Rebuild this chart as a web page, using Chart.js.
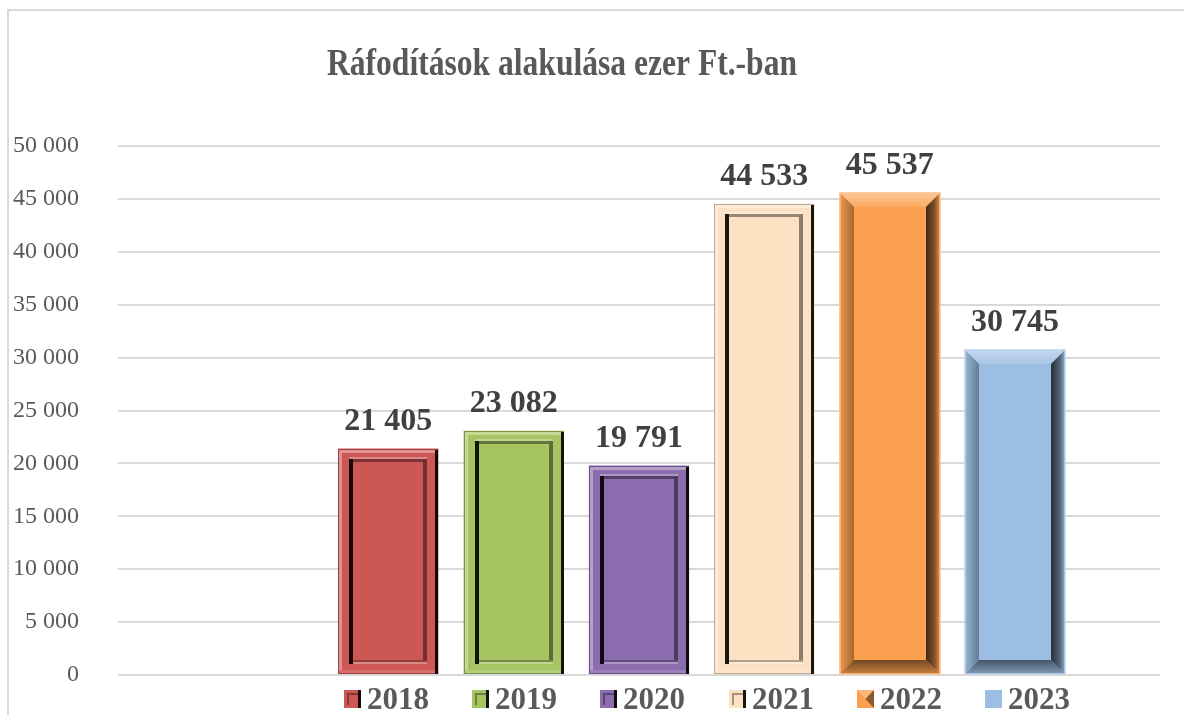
<!DOCTYPE html>
<html>
<head>
<meta charset="utf-8">
<script src="https://cdn.jsdelivr.net/npm/chart.js@4/dist/chart.umd.min.js"></script>
<style>
  html, body { margin: 0; padding: 0; background: #fff; }
</style>
</head>
<body>
<canvas id="main-chart" width="1184" height="715"></canvas>
<script>
/* global Chart */

// Chart values
const chartTitle = 'Ráfodítások alakulása ezer Ft.-ban';
const categories = [''];
// first series is empty in the original workbook (keeps the gap on the left)
const seriesLabels = ['', '2018', '2019', '2020', '2021', '2022', '2023'];
const seriesValues = [null, 21405, 23082, 19791, 44533, 45537, 30745];
const yTickValues = [0, 5000, 10000, 15000, 20000, 25000, 30000, 35000, 40000, 45000, 50000];
const yTickLabels = ['0', '5 000', '10 000', '15 000', '20 000', '25 000', '30 000', '35 000', '40 000', '45 000', '50 000'];

// Styles
const seriesColors = ['#ffffff', '#cd5755', '#a6c462', '#8b6cae', '#fde1c3', '#fba04f', '#9dbee3'];
const seriesBevels = ['none', 'frame', 'frame', 'frame', 'frame', 'angle', 'angle'];

const FONT = "'Liberation Serif', 'Times New Roman', serif";

const formatNum = (n) => String(n).replace(/\B(?=(\d{3})+(?!\d))/g, ' ');

// lighten (amt > 0) or darken (amt < 0) a hex colour
function shade(hex, amt) {
  const n = parseInt(hex.slice(1), 16);
  const r = (n >> 16) & 255, g = (n >> 8) & 255, b = n & 255;
  const f = (c) => amt >= 0 ? Math.round(c + (255 - c) * amt) : Math.round(c * (1 + amt));
  return 'rgb(' + f(r) + ',' + f(g) + ',' + f(b) + ')';
}

function drawFrame(ctx, l, t, r, b, c) {
  const rim = 11;
  const il = l + rim, it = t + rim, ir = r - rim, ib = b - rim;
  // outer rim
  ctx.strokeStyle = shade(c, -0.25);
  ctx.lineWidth = 1;
  ctx.strokeRect(l + 0.5, t + 0.5, r - l - 1, b - t - 1);
  ctx.fillStyle = shade(c, 0.35);
  ctx.fillRect(l + 1, t + 1, r - l - 4, 3);
  ctx.fillRect(l + 1, t + 1, 3, b - t - 2);
  ctx.fillStyle = shade(c, 0.15);
  ctx.fillRect(l + 1, b - 4, r - l - 4, 3);
  ctx.fillStyle = shade(c, -0.9);
  ctx.fillRect(r - 3, t + 1, 3, b - t - 1);
  // inner panel
  ctx.fillStyle = shade(c, 0.3);
  ctx.fillRect(il, it - 3, ir - il, 2);
  ctx.fillStyle = shade(c, -0.4);
  ctx.fillRect(il, it - 1, ir - il, 3);
  ctx.fillStyle = shade(c, -0.45);
  ctx.fillRect(ir - 4, it - 1, 4, ib - it + 1);
  ctx.fillStyle = shade(c, -0.3);
  ctx.fillRect(il, ib - 3, ir - il, 2);
  ctx.fillStyle = shade(c, 0.3);
  ctx.fillRect(il, ib - 1, ir - il, 2);
  ctx.fillStyle = shade(c, -0.9);
  ctx.fillRect(il, it - 1, 4, ib - it + 2);
}

function trap(ctx, pts, fill) {
  ctx.beginPath();
  ctx.moveTo(pts[0][0], pts[0][1]);
  for (let k = 1; k < pts.length; k++) ctx.lineTo(pts[k][0], pts[k][1]);
  ctx.closePath();
  ctx.fillStyle = fill;
  ctx.fill();
}

function drawAngle(ctx, l, t, r, b, c) {
  const w = 14;
  let g = ctx.createLinearGradient(0, t, 0, t + w);
  g.addColorStop(0, shade(c, 0.4));
  g.addColorStop(1, shade(c, 0.1));
  trap(ctx, [[l, t], [r, t], [r - w, t + w], [l + w, t + w]], g);
  g = ctx.createLinearGradient(l, 0, l + w, 0);
  g.addColorStop(0, shade(c, -0.05));
  g.addColorStop(1, shade(c, -0.35));
  trap(ctx, [[l, t], [l + w, t + w], [l + w, b - w], [l, b]], g);
  g = ctx.createLinearGradient(r - w, 0, r, 0);
  g.addColorStop(0, shade(c, -0.75));
  g.addColorStop(0.6, shade(c, -0.5));
  g.addColorStop(1, shade(c, -0.1));
  trap(ctx, [[r, t], [r, b], [r - w, b - w], [r - w, t + w]], g);
  g = ctx.createLinearGradient(0, b - w, 0, b);
  g.addColorStop(0, shade(c, -0.55));
  g.addColorStop(1, shade(c, -0.2));
  trap(ctx, [[l, b], [r, b], [r - w, b - w], [l + w, b - w]], g);
  ctx.strokeStyle = shade(c, 0.35);
  ctx.lineWidth = 1.5;
  ctx.strokeRect(l, t, r - l, b - t);
}

// Frame, title, bevels, value labels and legend
const decorPlugin = {
  id: 'decor',
  beforeDraw(chart) {
    const ctx = chart.ctx;
    ctx.save();
    ctx.fillStyle = '#fff';
    ctx.fillRect(0, 0, chart.width, chart.height);
    ctx.strokeStyle = '#d9d9d9';
    ctx.lineWidth = 2;
    ctx.strokeRect(8, 10, 1400, 900);
    // title, squeezed to the width it has in the original
    ctx.fillStyle = '#595959';
    ctx.font = 'bold 38px ' + FONT;
    ctx.textAlign = 'center';
    ctx.textBaseline = 'alphabetic';
    const tw = ctx.measureText(chartTitle).width;
    const sx = Math.min(1, 470 / tw);
    ctx.translate(562, 75);
    ctx.scale(sx, 1);
    ctx.fillText(chartTitle, 0, 0);
    ctx.restore();
  },
  afterDatasetsDraw(chart) {
    const ctx = chart.ctx;
    ctx.save();
    chart.data.datasets.forEach((ds, i) => {
      const meta = chart.getDatasetMeta(i);
      meta.data.forEach((bar, j) => {
        const v = ds.data[j];
        if (v == null) return;
        const l = Math.round(bar.x - bar.width / 2), r = Math.round(bar.x + bar.width / 2);
        const t = Math.round(bar.y), b = Math.round(bar.base);
        if (ds.bevel === 'frame') drawFrame(ctx, l, t, r, b, ds.backgroundColor);
        else if (ds.bevel === 'angle') drawAngle(ctx, l, t, r, b, ds.backgroundColor);
        ctx.fillStyle = '#404040';
        ctx.font = 'bold 32px ' + FONT;
        ctx.textAlign = 'center';
        ctx.textBaseline = 'alphabetic';
        ctx.fillText(formatNum(v), bar.x, bar.y - 19);
      });
    });
    ctx.restore();
  },
  afterDraw(chart) {
    const ctx = chart.ctx;
    ctx.save();
    ctx.font = 'bold 31px ' + FONT;
    ctx.textBaseline = 'alphabetic';
    ctx.textAlign = 'left';
    let k = 0;
    chart.data.datasets.forEach((ds) => {
      if (!ds.label) return;
      const x = 344 + Math.round(k * 128.2), y = 690;
      const c = ds.backgroundColor;
      ctx.fillStyle = c;
      ctx.fillRect(x, y, 17, 18);
      if (ds.bevel === 'frame') {
        ctx.fillStyle = shade(c, -0.9);
        ctx.fillRect(x + 14, y, 3, 18);
        ctx.fillStyle = shade(c, -0.35);
        ctx.fillRect(x + 3, y + 3, 11, 2);
        ctx.fillRect(x + 3, y + 3, 2, 12);
      } else if (k === 4) {
        trap(ctx, [[x, y], [x + 17, y], [x + 8.5, y + 9]], shade(c, 0.25));
        trap(ctx, [[x + 17, y], [x + 17, y + 18], [x + 8.5, y + 9]], shade(c, -0.45));
      }
      ctx.fillStyle = '#595959';
      ctx.fillText(ds.label, x + 23, 709);
      k++;
    });
    ctx.restore();
  }
};

const datasets = seriesLabels.map((label, i) => ({
  label: label,
  data: [seriesValues[i]],
  backgroundColor: seriesColors[i],
  bevel: seriesBevels[i],
  borderWidth: 0
}));

const mainChart = new Chart(document.getElementById('main-chart'), {
  type: 'bar',
  data: {
    labels: categories,
    datasets: datasets
  },
  options: {
    responsive: false,
    animation: false,
    layout: {
      padding: { left: 0, right: 24, top: 146, bottom: 40 }
    },
    datasets: {
      bar: {
        categoryPercentage: 0.842,
        barPercentage: 0.8
      }
    },
    plugins: {
      legend: { display: false },
      title: { display: false },
      tooltip: { enabled: false }
    },
    scales: {
      x: {
        display: false
      },
      y: {
        min: 0,
        max: 50000,
        afterBuildTicks: (scale) => {
          scale.ticks = yTickValues.map(v => ({ value: v }));
        },
        afterFit: (scale) => {
          // fixed axis width; the large tick padding must not pad the chart area vertically
          scale.width = 118;
          scale.paddingTop = 0;
          scale.paddingBottom = 0;
        },
        ticks: {
          padding: 39,
          color: '#595959',
          font: { family: FONT, size: 24 },
          callback: (value, index) => yTickLabels[index]
        },
        grid: {
          color: '#d9d9d9',
          lineWidth: 2,
          drawTicks: false
        },
        border: { display: false }
      }
    }
  },
  plugins: [decorPlugin]
});
</script>
</body>
</html>
